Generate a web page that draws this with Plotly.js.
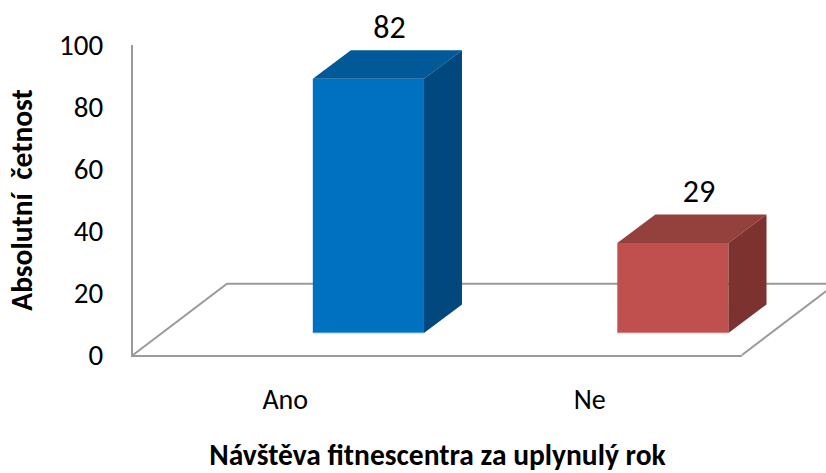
<!DOCTYPE html>
<html>
<head>
<meta charset="utf-8">
<script src="https://cdn.plot.ly/plotly-3.0.1.min.js"></script>
<style>html,body{margin:0;padding:0;background:#fff;overflow:hidden}#c{width:826px;height:473px}</style>
</head>
<body>
<div id="c"></div>
<script>
var categories = ["Ano", "Ne"];
var values = [82, 29];
var frontColors = ["#0070c0", "#c0504d"];
var topColors = ["#015998", "#94403d"];
var sideColors = ["#01487f", "#7c322f"];
var edgeColors = ["#9cc9ea", "#e6b5b3"];
var yTicks = [0, 20, 40, 60, 80, 100];
var labelShift = [0.007, 0.023];

// 3D projection constants (axis units)
var barShift = 0.273, barWidth = 0.365, barBase = 7.1;
var depthX = 0.125, depthY = 9.2;
var fontFamily = "Carlito, Lato, sans-serif";
var tickPos = categories.map(function (_, i) { return i + 0.5; });
var centers = tickPos.map(function (p) { return p + barShift; });

var traces = [{
  type: "bar", x: centers, y: values, base: barBase, width: barWidth,
  marker: { color: frontColors, line: { width: 0 } }, cliponaxis: false,
  hoverinfo: "x+y", showlegend: false
}];

values.forEach(function (v, i) {
  var l = centers[i] - barWidth / 2, r = centers[i] + barWidth / 2;
  var b = barBase, t = barBase + v;
  traces.push({
    type: "scatter", mode: "lines", fill: "toself", fillcolor: topColors[i], xaxis: "x2",
    x: [l, l + depthX, r + depthX, r, l], y: [t, t + depthY, t + depthY, t, t],
    line: { width: 0, color: topColors[i] }, cliponaxis: false, hoverinfo: "skip", showlegend: false
  });
  traces.push({
    type: "scatter", mode: "lines", fill: "toself", fillcolor: sideColors[i], xaxis: "x2",
    x: [r, r + depthX, r + depthX, r, r], y: [t, t + depthY, b + depthY, b, t],
    line: { width: 0, color: sideColors[i] }, cliponaxis: false, hoverinfo: "skip", showlegend: false
  });
  traces.push({
    type: "scatter", mode: "lines", x: [l, r], y: [b, b], xaxis: "x2",
    line: { width: 1, color: edgeColors[i] }, cliponaxis: false, hoverinfo: "skip", showlegend: false
  });
});

traces.push({
  type: "scatter", mode: "text", xaxis: "x2",
  x: centers.map(function (c, i) { return c + depthX / 2 + labelShift[i]; }),
  y: values.map(function (v) { return v + barBase + depthY + 1.5; }),
  text: values.map(String), textposition: "top center",
  textfont: { family: fontFamily, size: 32, color: "#000" },
  cliponaxis: false, hoverinfo: "skip", showlegend: false
});

var layout = {
  width: 826, height: 473,
  margin: { l: 133, r: 0, t: 45, b: 118 },
  paper_bgcolor: "#fff", plot_bgcolor: "rgba(0,0,0,0)",
  showlegend: false,
  xaxis: {
    domain: [0, 0.8788],
    range: [0, 2], tickmode: "array", tickvals: tickPos, ticktext: categories,
    showgrid: false, zeroline: false, showline: true, linecolor: "#9a9a9a", linewidth: 2,
    ticks: "outside", ticklen: 18, tickcolor: "rgba(0,0,0,0)", tickwidth: 0,
    tickfont: { family: fontFamily, size: 28, color: "#000" },
    automargin: false,
    title: { text: "Návštěva fitnescentra za uplynulý rok", standoff: 37,
      font: { family: fontFamily, size: 29.5, color: "#000", weight: 700 } }
  },
  xaxis2: {
    domain: [0, 1], range: [0, 2 / 0.8788], anchor: "y", visible: false
  },
  yaxis: {
    range: [0, 100], tickmode: "array", tickvals: yTicks,
    showgrid: false, zeroline: false, showline: true, linecolor: "#9a9a9a", linewidth: 2,
    ticks: "outside", ticklen: 22, tickcolor: "rgba(0,0,0,0)", tickwidth: 0,
    tickfont: { family: fontFamily, size: 29, color: "#000" },
    automargin: false,
    title: { text: "Absolutní  četnost", standoff: 18,
      font: { family: fontFamily, size: 29.5, color: "#000", weight: 700 } }
  },
  shapes: [{
    type: "path", layer: "below", xref: "paper", yref: "paper",
    path: "M 0 0 L 0.1356 0.23 L 1.02 0.23 M 1.0144 0.23 L 0.8788 0",
    line: { color: "#9a9a9a", width: 2 }
  }]
};

Plotly.newPlot("c", traces, layout, { displayModeBar: false, staticPlot: true });
</script>
</body>
</html>
